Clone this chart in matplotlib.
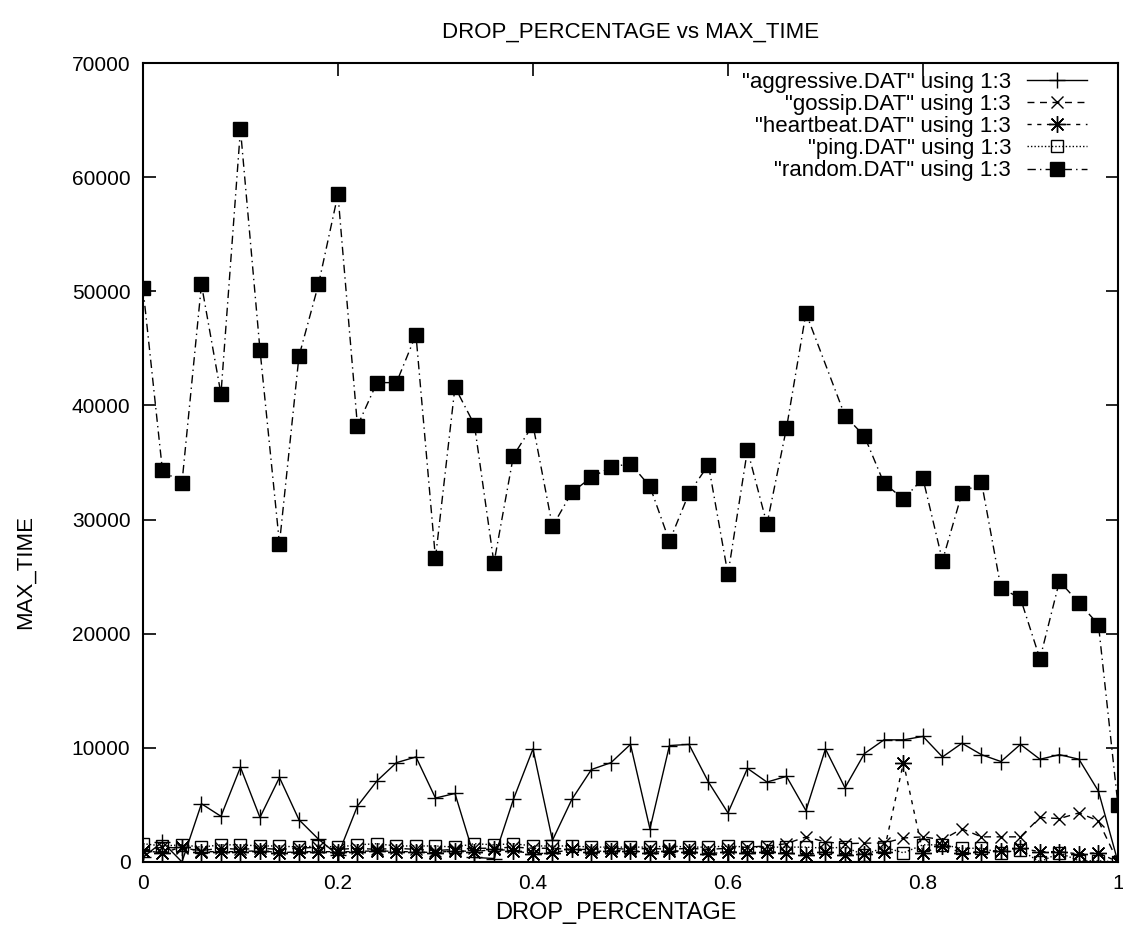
import matplotlib
matplotlib.use("Agg")
import matplotlib.pyplot as plt
import numpy as np

plt.rcParams['font.family'] = ['Liberation Sans', 'DejaVu Sans']

# drop percentage sampled every 0.02
drop = np.round(np.arange(51) * 0.02, 2)

aggressive = [400, 1750, 0, 5100, 4000, 8300, 3900, 7400, 3700, 2000,
              600, 4900, 7100, 8700, 9200, 5600, 6000, 400, 300, 5500,
              9900, 1900, 5500, 8100, 8700, 10300, 2900, 10200, 10300, 7000,
              4300, 8200, 7000, 7500, 4500, 9900, 6500, 9500, 10700, 10700,
              11000, 9200, 10400, 9400, 8800, 10300, 9000, 9400, 9000, 6200,
              0]

gossip = [1000, 1300, 1200, 1000, 1200, 1100, 1200, 1100, 1200, 1300,
          1100, 1200, 1100, 1200, 1100, 1000, 1100, 1200, 1200, 1300,
          1200, 1200, 1100, 1100, 1200, 1100, 1200, 1100, 1200, 1100,
          1200, 1300, 1400, 1600, 2200, 1750, 1600, 1650, 1650, 2100,
          2200, 1950, 2900, 2200, 2200, 2200, 3900, 3800, 4300, 3600,
          0]

heartbeat = [1000, 800, 1300, 900, 900, 900, 1000, 800, 900, 900,
             900, 900, 1000, 900, 900, 800, 1000, 900, 1100, 1000,
             700, 800, 1100, 900, 1000, 1000, 800, 1000, 900, 700,
             900, 800, 900, 800, 600, 900, 600, 700, 900, 8700,
             800, 1400, 800, 900, 1000, 1200, 900, 900, 700, 800,
             0]

ping = [1600, 1400, 1500, 1300, 1500, 1500, 1400, 1400, 1300, 1400,
        1300, 1500, 1600, 1400, 1400, 1400, 1300, 1600, 1500, 1600,
        1400, 1400, 1400, 1300, 1300, 1300, 1300, 1400, 1300, 1300,
        1400, 1300, 1300, 1300, 1300, 1200, 1300, 600, 1300, 800,
        1500, 1500, 1200, 1200, 800, 1050, 0, 800, 100, 100,
        0]

# random.DAT has no row for 0.70
random_drop = [d for d in drop if abs(d - 0.70) > 1e-9]
random_time = [50300, 34300, 33200, 50600, 41000, 64200, 44900, 27900, 44300, 50600,
               58500, 38200, 42000, 42000, 46200, 26600, 41600, 38300, 26200, 35600,
               38300, 29400, 32400, 33700, 34600, 34900, 32900, 28100, 32300, 34800,
               25200, 36100, 29600, 38000, 48100, 39100, 37300, 33200, 31800, 33600,
               26400, 32300, 33300, 24000, 23100, 17800, 24600, 22700, 20800, 5000]

fig = plt.figure(figsize=(11.23, 9.41), dpi=100)
ax = fig.add_axes([0.1273, 0.0840, 0.8682, 0.8490])

lw = 1.0
ax.plot(drop, aggressive, color='black', lw=lw, ls='-', marker='+', ms=11, mew=1.0,
        label='"aggressive.DAT" using 1:3')
ax.plot(drop, gossip, color='black', lw=lw, ls=(0, (5, 4)), marker='x', ms=9, mew=1.0,
        label='"gossip.DAT" using 1:3')
ax.plot(drop, heartbeat, color='black', lw=lw, ls=(0, (3, 4)), marker=(8, 2, 0), ms=12, mew=1.0,
        label='"heartbeat.DAT" using 1:3')
ax.plot(drop, ping, color='black', lw=lw, ls=(0, (1, 1.5)), marker='s', ms=9, mew=1.0,
        mfc='none', label='"ping.DAT" using 1:3')
ax.plot(random_drop, random_time, color='black', lw=lw, ls=(0, (6, 3, 1, 3)), marker='s', ms=10,
        label='"random.DAT" using 1:3')

ax.set_xlim(0, 1)
ax.set_ylim(0, 70000)
ax.set_xticks([0, 0.2, 0.4, 0.6, 0.8, 1])
ax.set_xticklabels(['0', '0.2', '0.4', '0.6', '0.8', '1'])
ax.set_yticks(np.arange(0, 70001, 10000))
ax.tick_params(direction='in', length=9, width=1.2, top=True, right=True,
               labelsize=15, pad=9)
for s in ax.spines.values():
    s.set_linewidth(1.5)

ax.set_title('DROP_PERCENTAGE vs MAX_TIME', fontsize=16, pad=18)
ax.set_xlabel('DROP_PERCENTAGE', fontsize=17)
ax.xaxis.set_label_coords(0.485, -0.050)
ax.set_ylabel('MAX_TIME', fontsize=16)
ax.yaxis.set_label_coords(-0.110, 0.363)

ax.legend(loc='upper right', bbox_to_anchor=(0.977, 1.0), frameon=False,
          markerfirst=False, fontsize=16, handlelength=2.7, handletextpad=0.7,
          labelspacing=0.05, borderaxespad=0.0, borderpad=0.4)

fig.savefig('out.png', dpi=100)
